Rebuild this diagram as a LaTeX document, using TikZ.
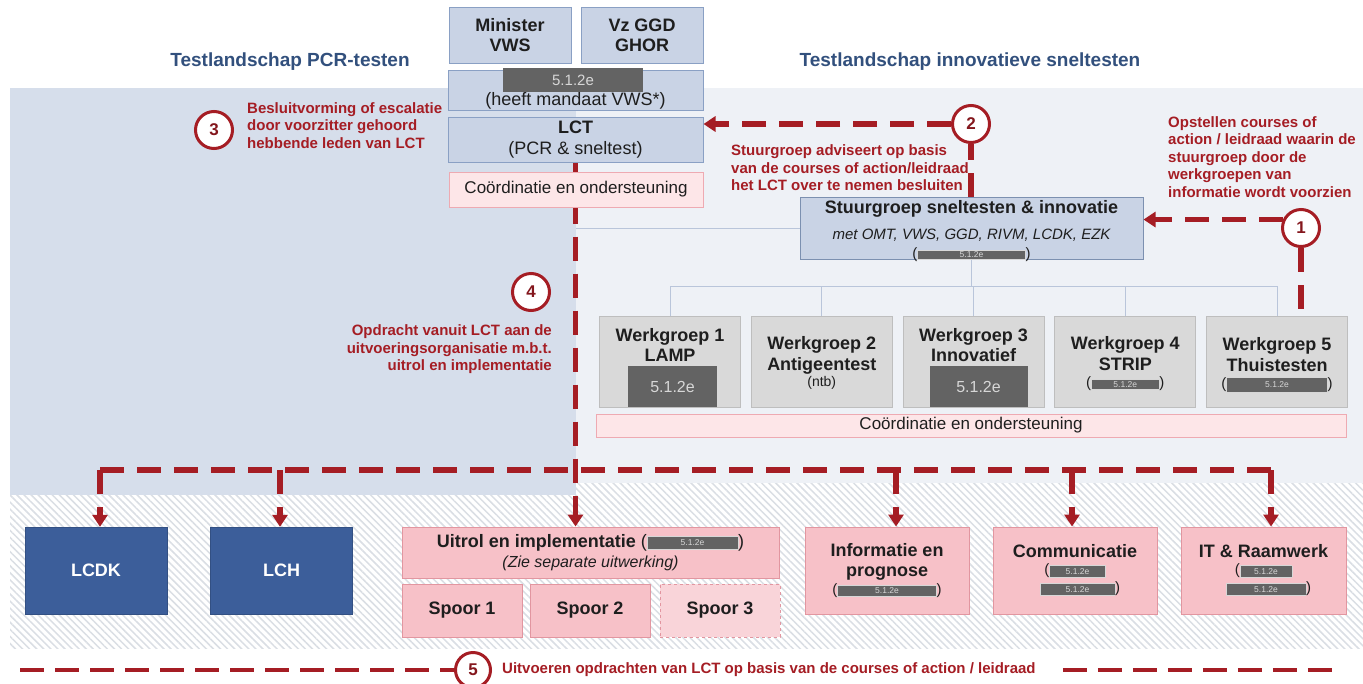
\documentclass[tikz,border=0pt]{standalone}
\usepackage{fontspec}
\setmainfont{Liberation Sans}
\usepackage{xcolor}
\usepackage{tikz}
\usetikzlibrary{
    arrows.meta,
    positioning,
    calc,
    patterns.meta
}
\definecolor{lctred}{RGB}{165,29,36}
\definecolor{headblue}{RGB}{50,80,125}
\definecolor{leftbg}{RGB}{214,222,235}
\definecolor{rightbg}{RGB}{238,241,246}
\definecolor{hatchline}{RGB}{218,222,228}
\definecolor{bluefill}{RGB}{201,211,229}
\definecolor{blueedge}{RGB}{138,160,196}
\definecolor{greyfill}{RGB}{217,217,217}
\definecolor{greyedge}{RGB}{190,190,190}
\definecolor{blockgrey}{RGB}{99,99,99}
\definecolor{blocktext}{RGB}{215,215,215}
\definecolor{pinkfill}{RGB}{247,193,200}
\definecolor{pinkedge}{RGB}{226,150,160}
\definecolor{palepink}{RGB}{253,230,232}
\definecolor{palepinkedge}{RGB}{238,170,178}
\definecolor{navyfill}{RGB}{60,94,154}
\definecolor{thinblue}{RGB}{185,197,218}
\definecolor{inktext}{RGB}{30,30,30}
\pgfdeclarelayer{panels}
\pgfdeclarelayer{links}
\pgfsetlayers{panels,links,main}
\newcommand\fsz[2]{\fontsize{#1}{#2}\selectfont}
\newcommand\redbar[2][10]{{\setlength\fboxsep{0pt}\setlength\fboxrule{0.6pt}%
  \fcolorbox{blocktext}{blockgrey}{\parbox[c][#1pt][c]{#2pt}{\centering
  \color{blocktext}\mdseries\upshape\fsz{8.5}{8.5}5.1.2e}}}}
\tikzset{%
   topbox/.style={
      draw=blueedge,
      fill=bluefill,
      line width=1pt,
      inner sep=0pt,
      align=center,
      text=inktext
   },
   greybox/.style={
      draw=greyedge,
      fill=greyfill,
      line width=1pt,
      minimum width=141pt,
      minimum height=91pt,
      inner sep=0pt
   },
   wgtext/.style={
      align=center,
      font=\bfseries\fsz{18}{20.5},
      text=inktext,
      inner sep=0pt
   },
   block/.style={
      fill=blockgrey,
      text=blocktext,
      font=\fsz{16}{16},
      inner sep=0pt
   },
   pinkbox/.style={
      draw=pinkedge,
      fill=pinkfill,
      line width=1pt,
      inner sep=0pt,
      align=center,
      font=\bfseries\fsz{18}{20},
      text=inktext
   },
   palebox/.style={
      draw=palepinkedge,
      fill=palepink,
      line width=1pt,
      inner sep=0pt,
      font=\fsz{17}{17},
      text=inktext
   },
   navybox/.style={
      fill=navyfill,
      draw=navyfill!85!black,
      minimum width=142pt,
      minimum height=87pt,
      text=white,
      font=\bfseries\fsz{18}{18}
   },
   stepno/.style={
      circle,
      draw=lctred,
      fill=white,
      line width=3pt,
      minimum size=37pt,
      inner sep=0pt,
      text=lctred!80!black,
      font=\bfseries\fsz{17}{17}
   },
   note/.style={
      text=lctred,
      font=\bfseries\fsz{15}{17.5},
      inner sep=0pt
   },
   head/.style={
      text=headblue,
      font=\bfseries\fsz{19}{19},
      inner sep=0pt
   },
   reddash/.style={
      draw=lctred,
      line width=5.5pt,
      dash pattern=on 24pt off 13pt
   },
   redarrow/.style={
      reddash,
      -{Triangle[length=12pt,width=15pt]}
   },
   fiveline/.style={
      draw=lctred,
      line width=4pt,
      dash pattern=on 24pt off 11pt
   },
   thinline/.style={
      draw=thinblue,
      line width=1pt
   },
}

\begin{document}
\begin{tikzpicture}[x=1pt, y=-1pt]
   \useasboundingbox (0,0) rectangle (1363,683);
   \begin{pgfonlayer}{panels}
      \fill[white] (0,0) rectangle (1363,683);
      \fill[pattern={Lines[angle=-45,distance=5pt,line width=1.5pt]},
            pattern color=hatchline] (10,483) rectangle (1363,648);
      \fill[rightbg] (576,88) rectangle (1363,483);
      \fill[leftbg] (10,88) rectangle (576,495);
   \end{pgfonlayer}

   \node[head] (h1) at (290,62) {Testlandschap PCR-testen};
   \node[head] (h2) at (970,62) {Testlandschap innovatieve sneltesten};

   \node[topbox, minimum width=122pt, minimum height=56pt,
         font=\bfseries\fsz{18}{20}] (min) at (510,35) {Minister\\VWS};
   \node[topbox, minimum width=122pt, minimum height=56pt,
         font=\bfseries\fsz{18}{20}] (ggd) at (642,35) {Vz GGD\\GHOR};
   \node[topbox, minimum width=255pt, minimum height=40pt,
         font=\fsz{18}{20}] (mand) at (575.5,90) {\strut\\(heeft mandaat VWS*)};
   \node[block, minimum width=140pt, minimum height=24pt,
         font=\fsz{15}{15}] (mblk) at (573,80) {5.1.2e};
   \node[topbox, minimum width=255pt, minimum height=45pt,
         font=\fsz{18}{21}] (lct) at (575.5,139.5) {\textbf{LCT}\\(PCR \& sneltest)};
   \node[palebox, minimum width=254pt, minimum height=35pt] (cor1) at (576,189.5)
        {Coördinatie en ondersteuning};

   \node[topbox, minimum width=343pt, minimum height=62pt,
         draw=blueedge!90!black] (stuur) at (971.5,228) {};
   \node[align=center, inner sep=0pt, text=inktext, font=\fsz{15}{19}] (stt) at (971.5,231)
        {{\bfseries\fsz{18}{18}Stuurgroep sneltesten \& innovatie}\\[7pt]
         {\itshape met OMT, VWS, GGD, RIVM, LCDK, EZK}\\(\redbar[8]{107})};

   \node[greybox] (wg1) at (670,361.5) {};
   \node[greybox] (wg2) at (821.75,361.5) {};
   \node[greybox] (wg3) at (973.5,361.5) {};
   \node[greybox] (wg4) at (1125.25,361.5) {};
   \node[greybox] (wg5) at (1277,361.5) {};
   \node[wgtext] (wt1) at (670,345) {Werkgroep 1\\LAMP};
   \node[block, minimum width=89pt, minimum height=41pt, anchor=south]
        (wb1) at ([xshift=2.5pt]wg1.south) {5.1.2e};
   \node[wgtext] (wt2) at (821.75,363) {Werkgroep 2\\Antigeentest\\[-4pt]
        {\mdseries\fsz{14}{14}(ntb)}};
   \node[wgtext] (wt3) at (973.5,345) {Werkgroep 3\\Innovatief};
   \node[block, minimum width=98pt, minimum height=41pt, anchor=south]
        (wb3) at ([xshift=5pt]wg3.south) {5.1.2e};
   \node[wgtext] (wt4) at (1125.25,364) {Werkgroep 4\\STRIP\\[-3pt]
        {\mdseries\fsz{15}{15}(\redbar{67})}};
   \node[wgtext] (wt5) at (1277,365) {Werkgroep 5\\Thuistesten\\[-3pt]
        {\mdseries\fsz{15}{15}(\redbar[14]{100})}};
   \node[palebox, minimum width=750pt, minimum height=23pt] (cor2) at (971,425.5)
        {Coördinatie en ondersteuning};

   \node[navybox] (lcdk) at (96,570.5) {LCDK};
   \node[navybox] (lch) at (281.5,570.5) {LCH};
   \node[pinkbox, minimum width=377pt, minimum height=51pt] (uit) at (590.5,552.5)
        {Uitrol en implementatie {\mdseries(}\redbar[12]{90}{\mdseries)}\\
         {\mdseries\itshape\fsz{16}{16}(Zie separate uitwerking)}};
   \node[pinkbox, minimum width=120pt, minimum height=53pt] (sp1) at (462,610.5) {Spoor 1};
   \node[pinkbox, minimum width=120pt, minimum height=53pt] (sp2) at (590,610.5) {Spoor 2};
   \node[pinkbox, minimum width=120pt, minimum height=53pt, fill=pinkfill!70!white,
         dashed] (sp3) at (720,610.5) {Spoor 3};
   \node[pinkbox, minimum width=164pt, minimum height=87pt] (info) at (887,570.5)
        {Informatie en\\prognose\\[-2pt]{\mdseries\fsz{15}{15}(\redbar{98})}};
   \node[pinkbox, minimum width=164pt, minimum height=87pt] (comm) at (1075,570.5)
        {Communicatie\\[-3pt]{\mdseries\fsz{15}{15}(\redbar[11]{55}\hspace{10pt}}\\[-2pt]
         {\mdseries\fsz{15}{15}\hspace{10pt}\redbar[11]{74})}};
   \node[pinkbox, minimum width=165pt, minimum height=87pt] (it) at (1263.5,570.5)
        {IT \& Raamwerk\\[-3pt]{\mdseries\fsz{15}{15}(\redbar[11]{51}\hspace{18pt}}\\[-2pt]
         {\mdseries\fsz{15}{15}\hspace{10pt}\redbar[11]{79})}};

   \node[stepno] (c1) at (1301,228) {1};
   \node[stepno] (c2) at (971,124) {2};
   \node[stepno] (c3) at (214,130) {3};
   \node[stepno] (c4) at (531,292) {4};
   \node[stepno, minimum size=35pt] (c5) at (473,670) {5};

   \node[note, anchor=west, align=left] (n3) at (247,125.5)
        {Besluitvorming of escalatie\\door voorzitter gehoord\\hebbende leden van LCT};
   \node[note, anchor=west, align=left] (n2) at (731,168)
        {Stuurgroep adviseert op basis\\van de courses of action/leidraad\\het LCT over te nemen besluiten};
   \node[note, anchor=west, align=left] (n1) at (1168,157)
        {Opstellen courses of\\action / leidraad waarin de\\stuurgroep door de\\werkgroepen van\\informatie wordt voorzien};
   \node[note, anchor=east, align=right] (n4) at (552,349.5)
        {Opdracht vanuit LCT aan de\\uitvoeringsorganisatie m.b.t.\\uitrol en implementatie};
   \node[note, anchor=west, font=\bfseries\fsz{15}{15}] (n5) at (502,670)
        {Uitvoeren opdrachten van LCT op basis van de courses of action / leidraad};

   \draw[thinline] (wg1.north) -- ++(0,-29) coordinate (wbus) -| (wg5.north);
   \foreach \w in {wg2,wg3,wg4}
      \draw[thinline] (\w.north) -- (\w.north |- wbus);
   \draw[thinline] (stuur.south) -- (stuur.south |- wbus);
   \draw[thinline] (stuur.west) -- (stuur.west -| cor1.south);

   \begin{pgfonlayer}{links}
      \draw[redarrow] (lct.south) -- (lct.south |- uit.north);
   \end{pgfonlayer}
   \draw[reddash] (stuur.north -| c2) -- (c2.south);
   \draw[redarrow] (c2.west) -- (c2.west -| lct.east);
   \draw[redarrow] (c1.155) -- (c1.155 -| stuur.east);
   \draw[reddash] (c1.south) -- (c1.south |- wg5.north);

   \coordinate (tapA) at (100,470);
   \coordinate (tapB) at (280,470);
   \coordinate (tapC) at (896,470);
   \coordinate (tapD) at (1072,470);
   \coordinate (tapE) at (1271,470);
   \draw[reddash] (tapA) -- (tapE);
   \foreach \t/\n in {tapA/lcdk,tapB/lch,tapC/info,tapD/comm,tapE/it}
      \draw[redarrow] (\t) -- (\t |- \n.north);

   \coordinate (l5a) at (20,670);
   \coordinate (l5b) at (1338,670);
   \draw[fiveline] (l5a) -- (c5.west);
   \draw[fiveline, shorten <=27pt] (n5.east) -- (l5b);
\end{tikzpicture}
\end{document}
